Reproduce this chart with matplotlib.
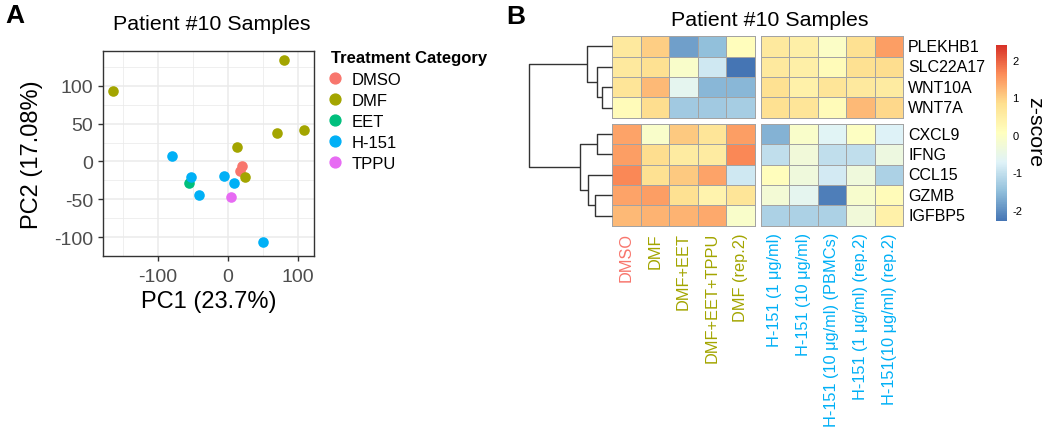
import numpy as np
import matplotlib
matplotlib.use("Agg")
import matplotlib.pyplot as plt
from matplotlib.colors import LinearSegmentedColormap, Normalize
from matplotlib.cm import ScalarMappable
from matplotlib.lines import Line2D

plt.rcParams['font.family'] = ['Liberation Sans', 'DejaVu Sans']
plt.rcParams['axes.unicode_minus'] = False

W, H = 1050, 439

# ---- panel A: PCA of samples
categories = ["DMSO", "DMF", "EET", "H-151", "TPPU"]
cat_colors = ["#F8766D", "#A3A500", "#00BF7D", "#00B0F6", "#E76BF3"]
sample_cat = ["DMSO", "DMSO",
              "DMF", "DMF", "DMF", "DMF", "DMF", "DMF",
              "EET",
              "H-151", "H-151", "H-151", "H-151", "H-151", "H-151",
              "TPPU"]
pc1 = [20.5, 17.6, -165, 80, 70.5, 109, 12.9, 24.3, -56,
       -80, -52.4, -41.4, -6.2, 9, 50.5, 4.3]
pc2 = [-6, -12, 93.6, 134, 37.7, 41, 19, -20.6, -28,
       7.3, -20.6, -45, -19, -29, -107, -46.7]

# ---- panel B: heatmap of z-scores
genes = ["PLEKHB1", "SLC22A17", "WNT10A", "WNT7A",
         "CXCL9", "IFNG", "CCL15", "GZMB", "IGFBP5"]
samples = ["DMSO", "DMF", "DMF+EET", "DMF+EET+TPPU", "DMF (rep.2)",
           "H-151 (1 μg/ml)", "H-151 (10 μg/ml)", "H-151 (10 μg/ml) (PBMCs)",
           "H-151 (1 μg/ml) (rep.2)", "H-151(10 μg/ml) (rep.2)"]
sample_colors = ["#F8766D"] + ["#A3A500"] * 4 + ["#00B0F6"] * 5
z_plekhb1 = [0.6, 1.0, -1.85, -1.5, 0.1, 0.6, 0.45, -0.05, 0.8, 1.45]
z_slc22a17 = [0.6, 0.8, -0.1, -0.9, -2.3, 0.6, 0.45, 0.15, 0.8, 0.85]
z_wnt10a = [0.7, 1.2, -0.6, -1.6, -1.6, 0.8, 0.4, 0.7, 0.6, 0.55]
z_wnt7a = [0.15, 0.85, -1.35, -1.35, -1.3, 0.8, 0.7, 0.15, 1.2, 0.9]
z_cxcl9 = [1.4, -0.1, 1.05, 0.7, 1.45, -1.65, -0.1, -0.7, 0.0, -0.75]
z_ifng = [1.45, 0.85, 0.55, 0.55, 1.65, -1.05, -0.3, -1.05, -1.05, -0.4]
z_ccl15 = [1.65, 0.8, 1.05, 1.4, -0.9, 0.1, -0.35, -0.85, -0.35, -1.25]
z_gzmb = [1.4, 1.45, 0.8, 0.35, 0.7, -0.25, -0.6, -2.2, -0.15, 0.15]
z_igfbp5 = [1.2, 1.25, 1.25, 1.35, -0.1, -1.25, -1.25, -1.25, -0.3, 0.4]
z_rows = [z_plekhb1, z_slc22a17, z_wnt10a, z_wnt7a,
          z_cxcl9, z_ifng, z_ccl15, z_gzmb, z_igfbp5]

# row dendrogram merges: (left, right, height); ints are leaves, strings are nodes
merges = {
    "a": (2, 3, 0.12),
    "b": (1, "a", 0.18),
    "c": (0, "b", 0.30),
    "d": (4, 5, 0.18),
    "e": (7, 8, 0.205),
    "f": (6, "e", 0.29),
    "g": ("d", "f", 0.38),
    "root": ("c", "g", 1.0),
}

row_split, col_split = 4, 5
gap_x, gap_y = 0.21, 0.30


def px_axes(fig, x0, y0, x1, y1):
    return fig.add_axes([x0 / W, 1 - y1 / H, (x1 - x0) / W, (y1 - y0) / H])


fig = plt.figure(figsize=(W / 100, H / 100), dpi=100)

# ================= panel A =================
ax = px_axes(fig, 103, 52, 314, 257)
for cat, col in zip(categories, cat_colors):
    xs = [x for x, c in zip(pc1, sample_cat) if c == cat]
    ys = [y for y, c in zip(pc2, sample_cat) if c == cat]
    ax.scatter(xs, ys, s=58, color=col, linewidths=0, zorder=3)

ax.set_xlim(-178.6, 122.9)
ax.set_ylim(-118, 146)
ax.set_xticks([-100, 0, 100])
ax.set_xticks([-150, -50, 50], minor=True)
ax.set_yticks([-100, -50, 0, 50, 100])
ax.set_yticks([-125, -75, -25, 25, 75, 125], minor=True)
ax.set_axisbelow(True)
ax.grid(which="major", color="#EBEBEB", lw=1.1)
ax.grid(which="minor", color="#EBEBEB", lw=0.55)
for sp in ax.spines.values():
    sp.set_color("#333333")
    sp.set_linewidth(1.0)
ax.tick_params(which="major", length=3.5, width=1, color="#333333",
               labelcolor="#4D4D4D", labelsize=14, pad=3.5)
ax.tick_params(axis="x", which="major", pad=5)
ax.tick_params(which="minor", length=0)
ax.set_xlabel("PC1 (23.7%)", fontsize=17, labelpad=4)
ax.set_ylabel("PC2 (17.08%)", fontsize=17, labelpad=8)

handles = [Line2D([], [], marker="o", ls="", color=c, markersize=7.8)
           for c in cat_colors]
leg = ax.legend(handles, categories,
                loc="upper left", bbox_to_anchor=(327 / W, 1 - 73 / H),
                bbox_transform=fig.transFigure, frameon=False, fontsize=12,
                handletextpad=0.45, labelspacing=0.36,
                handlelength=1.0, borderaxespad=0, borderpad=0)
fig.text(331 / W, 1 - 58 / H, "Treatment Category", fontsize=12,
         weight="bold", ha="left", va="center")

fig.text(212 / W, 1 - 25 / H, "Patient #10 Samples", fontsize=15.4,
         ha="center", va="center")
fig.text(15 / W, 1 - 16 / H, "A", fontsize=19, weight="bold",
         ha="center", va="center")

# ================= panel B =================
cmap = LinearSegmentedColormap.from_list(
    "rdylbu_r", ["#4575B4", "#91BFDB", "#E0F3F8", "#FFFFBF",
                 "#FEE090", "#FC8D59", "#D73027"])
norm = Normalize(vmin=-2.3, vmax=2.4)
Z = np.array(z_rows)
n_rows, n_cols = Z.shape
x_total = n_cols + gap_x
y_total = n_rows + gap_y

axh = px_axes(fig, 612, 37.3, 903.3, 226.7)
axh.set_xlim(0, x_total)
axh.set_ylim(y_total, 0)
axh.axis("off")

for r0, r1 in [(0, row_split), (row_split, n_rows)]:
    for c0, c1 in [(0, col_split), (col_split, n_cols)]:
        xe = np.arange(c0, c1 + 1) + (gap_x if c0 >= col_split else 0)
        ye = np.arange(r0, r1 + 1) + (gap_y if r0 >= row_split else 0)
        mesh = axh.pcolormesh(xe, ye, Z[r0:r1, c0:c1], cmap=cmap, norm=norm,
                              edgecolors="#A3A3A3", linewidth=0.7)
        mesh.set_clip_on(False)

col_centers = [j + 0.5 + (gap_x if j >= col_split else 0) for j in range(n_cols)]
row_centers = [i + 0.5 + (gap_y if i >= row_split else 0) for i in range(n_rows)]

for xc, lab, col in zip(col_centers, samples, sample_colors):
    axh.text(xc, y_total + 0.32, lab, rotation=90, ha="center", va="top",
             color=col, fontsize=11.8, clip_on=False)
for yc, g in zip(row_centers, genes):
    axh.text(x_total + 0.17, yc, g, ha="left", va="center",
             fontsize=11.5, clip_on=False)

# dendrogram
axd = px_axes(fig, 529, 37.3, 612, 226.7)
axd.set_xlim(1.0, 0)
axd.set_ylim(y_total, 0)
axd.axis("off")


def node_pos(key):
    if isinstance(key, int):
        return row_centers[key], 0.0
    left, right, h = merges[key]
    yl, hl = node_pos(left)
    yr, hr = node_pos(right)
    axd.plot([hl, h, h, hr], [yl, yl, yr, yr], color="#333333", lw=1.0,
             clip_on=False, solid_capstyle="butt")
    return (yl + yr) / 2, h


node_pos("root")

# colour bar
cax = px_axes(fig, 995.7, 45.7, 1006.7, 222)
cb = fig.colorbar(ScalarMappable(norm=norm, cmap=cmap), cax=cax)
cb.outline.set_visible(False)
cb.set_ticks([-2, -1, 0, 1, 2])
cax.tick_params(length=0, labelsize=8, pad=4)
fig.text(1035 / W, 1 - 131.7 / H, "z-score", rotation=270, fontsize=15.4,
         ha="center", va="center")

fig.text(770 / W, 1 - 20 / H, "Patient #10 Samples", fontsize=15.4,
         ha="center", va="center")
fig.text(516 / W, 1 - 17 / H, "B", fontsize=19, weight="bold",
         ha="center", va="center")

fig.savefig("out.png", dpi=100)
